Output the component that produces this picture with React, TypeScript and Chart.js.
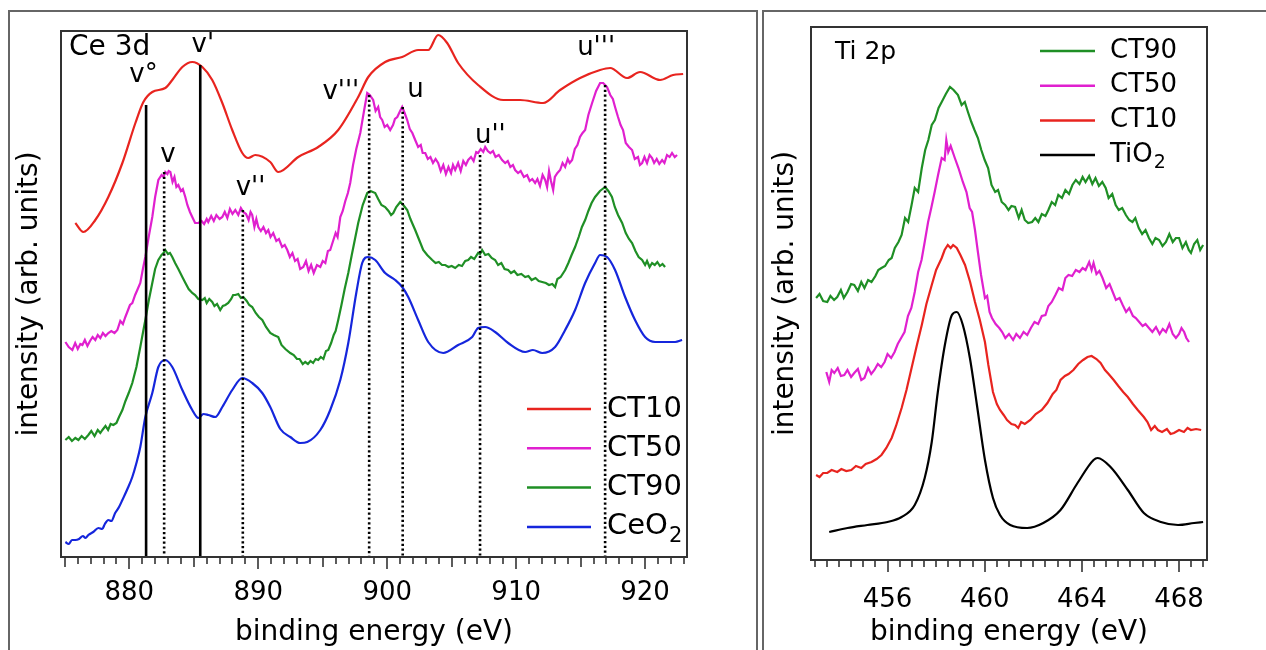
import React, { useEffect, useRef } from "react";
import { Chart, registerables } from "chart.js";

Chart.register(...registerables);

const FONT = "'DejaVu Sans', Verdana, sans-serif";

type Pt = [number, number];

// ---------------- Ce 3d panel data (binding energy eV, intensity arb.) ----------------
const ceCT10: Pt[] = [
  [875.81, 334], [876.43, 325], [877.36, 337], [878.37, 360], [879.46, 394], [880.47, 434],
  [881.09, 455], [881.78, 465], [882.79, 469], [883.33, 477], [884.11, 490], [884.88, 495],
  [885.66, 490], [886.43, 477], [887.21, 454], [887.98, 427], [888.76, 404], [889.22, 399],
  [889.77, 402], [890.93, 395], [891.55, 385], [893.1, 400], [894.65, 410], [896.2, 427],
  [897.75, 460], [898.53, 480], [899.84, 495], [901.16, 500], [902.4, 507], [903.18, 507],
  [903.95, 522], [904.65, 514], [905.5, 494], [907.05, 472], [909.0, 457], [910.31, 457],
  [912.09, 454], [913.41, 467], [914.96, 479], [916.51, 487], [917.29, 489], [918.6, 479],
  [919.61, 485], [921.16, 477], [922.17, 482], [922.95, 483],
];
const ceCT50: Pt[] = [
  [875.04, 215], [875.3, 210], [875.58, 207], [875.8, 214], [876.0, 208], [876.2, 213], [876.36, 212],
  [876.55, 217], [876.75, 211], [876.95, 216], [877.15, 220], [877.36, 217], [877.55, 222], [877.75, 219],
  [877.95, 224], [878.15, 221], [878.37, 224], [878.6, 226], [878.85, 224], [879.07, 227], [879.3, 236],
  [879.5, 233], [879.69, 240], [879.9, 247], [880.05, 252], [880.23, 254], [880.45, 262], [880.65, 268],
  [880.85, 274], [881.05, 288], [881.24, 300], [881.5, 320], [881.78, 340], [882.0, 360], [882.25, 377],
  [882.5, 382], [882.65, 380], [882.79, 385], [882.95, 383], [883.05, 386], [883.18, 385], [883.35, 375],
  [883.5, 380], [883.65, 370], [883.8, 372], [884.0, 366], [884.15, 368], [884.34, 360], [884.5, 352],
  [884.7, 345], [884.88, 340], [885.1, 334], [885.35, 334], [885.6, 336], [885.8, 333], [886.0, 338],
  [886.12, 335], [886.35, 341], [886.55, 336], [886.75, 342], [887.0, 338], [887.21, 340], [887.4, 345],
  [887.6, 339], [887.8, 348], [888.0, 343], [888.22, 347], [888.45, 342], [888.65, 349], [888.84, 345],
  [889.05, 343], [889.25, 337], [889.4, 345], [889.53, 342], [889.7, 330], [889.85, 338], [890.0, 330],
  [890.2, 326], [890.4, 330], [890.6, 324], [890.78, 327], [890.95, 320], [891.16, 324], [891.4, 316],
  [891.6, 318], [891.85, 310], [892.05, 312], [892.25, 307], [892.45, 300], [892.65, 304], [892.85, 296],
  [893.05, 298], [893.25, 288], [893.49, 290], [893.7, 296], [893.9, 286], [894.1, 292], [894.3, 284],
  [894.55, 292], [894.81, 290], [895.0, 296], [895.2, 294], [895.4, 306], [895.58, 307], [895.8, 316],
  [896.0, 324], [896.15, 320], [896.36, 340], [896.55, 346], [896.75, 356], [896.95, 364], [897.13, 374],
  [897.35, 392], [897.6, 408], [897.91, 424], [898.2, 446], [898.45, 464], [898.65, 462], [898.91, 457],
  [899.1, 446], [899.3, 450], [899.45, 440], [899.61, 437], [899.8, 430], [900.0, 432], [900.23, 427],
  [900.45, 432], [900.6, 438], [900.78, 440], [901.0, 446], [901.16, 450], [901.35, 444], [901.55, 437],
  [901.75, 428], [901.95, 424], [902.17, 417], [902.4, 410], [902.6, 412], [902.75, 404], [902.95, 404],
  [903.15, 398], [903.35, 400], [903.55, 394], [903.75, 398], [903.95, 394], [904.15, 386], [904.35, 392],
  [904.55, 383], [904.75, 390], [904.95, 384], [905.1, 392], [905.27, 387], [905.5, 394], [905.7, 386],
  [905.9, 396], [906.1, 392], [906.28, 397], [906.5, 400], [906.7, 396], [906.9, 405], [907.05, 404],
  [907.25, 408], [907.45, 405], [907.6, 410], [907.8, 406], [908.0, 404], [908.2, 406], [908.4, 400],
  [908.65, 402], [908.91, 397], [909.15, 394], [909.35, 396], [909.55, 390], [909.75, 392], [909.92, 387],
  [910.15, 384], [910.35, 386], [910.6, 380], [910.85, 382], [911.05, 376], [911.25, 378], [911.47, 374],
  [911.65, 378], [911.85, 371], [912.05, 382], [912.25, 377], [912.4, 370], [912.55, 386], [912.7, 376],
  [912.87, 367], [913.0, 380], [913.2, 384], [913.41, 387], [913.6, 394], [913.8, 390], [914.0, 398],
  [914.15, 394], [914.34, 397], [914.55, 408], [914.75, 412], [914.95, 420], [915.15, 424], [915.35, 427],
  [915.6, 442], [915.89, 454], [916.2, 466], [916.51, 474], [916.75, 474], [917.05, 470], [917.3, 462],
  [917.5, 458], [917.67, 450], [917.9, 440], [918.1, 432], [918.29, 427], [918.5, 414], [918.75, 410],
  [918.99, 407], [919.2, 398], [919.45, 400], [919.6, 392], [919.77, 394], [919.95, 400], [920.15, 394],
  [920.35, 402], [920.54, 399], [920.7, 394], [920.9, 398], [921.1, 393], [921.32, 397], [921.5, 394],
  [921.7, 402], [921.9, 400], [922.09, 404], [922.3, 400], [922.48, 402],
];
const ceCT90: Pt[] = [
  [875.04, 117], [875.3, 120], [875.55, 116], [875.81, 119], [876.05, 117], [876.3, 121], [876.55, 118],
  [876.82, 122], [877.05, 126], [877.3, 121], [877.55, 127], [877.75, 124], [877.91, 127], [878.15, 131],
  [878.35, 127], [878.55, 133], [878.76, 132], [879.0, 134], [879.2, 140], [879.46, 147], [879.7, 156],
  [879.95, 164], [880.23, 174], [880.55, 190], [880.85, 210], [881.05, 224], [881.24, 237], [881.5, 256],
  [881.78, 274], [882.0, 288], [882.25, 297], [882.5, 302], [882.65, 304], [882.79, 307], [883.0, 303],
  [883.15, 304], [883.33, 300], [883.55, 294], [883.8, 288], [884.11, 280], [884.35, 274], [884.6, 268],
  [884.88, 264], [885.1, 262], [885.35, 258], [885.66, 257], [885.85, 259], [886.0, 254], [886.2, 258],
  [886.43, 255], [886.6, 251], [886.8, 253], [887.05, 247], [887.25, 251], [887.45, 252], [887.67, 254],
  [887.9, 258], [888.05, 262], [888.22, 262], [888.45, 263], [888.65, 259], [888.84, 260], [889.1, 256],
  [889.3, 252], [889.53, 250], [889.8, 244], [890.05, 240], [890.31, 237], [890.6, 230], [890.93, 224],
  [891.2, 222], [891.55, 220], [891.8, 212], [892.1, 208], [892.48, 204], [892.75, 202], [893.0, 198],
  [893.2, 198], [893.45, 193], [893.64, 195], [893.85, 193], [894.05, 196], [894.25, 194], [894.45, 198],
  [894.65, 197], [894.85, 200], [895.05, 198], [895.25, 206], [895.43, 207], [895.65, 214], [895.85, 222],
  [896.0, 226], [896.2, 237], [896.45, 252], [896.7, 268], [896.98, 284], [897.25, 302], [897.5, 318],
  [897.75, 334], [898.1, 352], [898.45, 364], [898.7, 366], [899.07, 364], [899.3, 358], [899.55, 352],
  [899.84, 350], [900.1, 346], [900.3, 342], [900.47, 344], [900.7, 350], [901.01, 355], [901.25, 352],
  [901.55, 347], [901.8, 338], [902.0, 332], [902.17, 327], [902.45, 318], [902.79, 307], [903.1, 302],
  [903.49, 297], [903.75, 294], [904.0, 295], [904.25, 292], [904.5, 292], [904.75, 290], [905.0, 291],
  [905.27, 289], [905.55, 292], [905.8, 291], [906.05, 296], [906.28, 297], [906.5, 300], [906.75, 298],
  [907.05, 304], [907.2, 303], [907.36, 307], [907.6, 302], [907.85, 303], [908.1, 299], [908.37, 297],
  [908.6, 292], [908.85, 294], [909.1, 288], [909.38, 287], [909.6, 284], [909.85, 286], [910.1, 282],
  [910.4, 283], [910.7, 280], [910.95, 281], [911.2, 277], [911.5, 279], [911.75, 276], [912.02, 275],
  [912.3, 274], [912.55, 272], [912.8, 273], [913.02, 270], [913.2, 278], [913.45, 280], [913.8, 287],
  [914.05, 294], [914.3, 302], [914.57, 310], [914.85, 320], [915.1, 330], [915.35, 337], [915.6, 346],
  [915.85, 354], [916.12, 360], [916.5, 366], [916.9, 370], [917.15, 366], [917.43, 360], [917.65, 350],
  [917.9, 342], [918.22, 334], [918.5, 324], [918.75, 318], [918.99, 314], [919.25, 306], [919.5, 300],
  [919.77, 297], [920.0, 292], [920.15, 296], [920.35, 290], [920.54, 294], [920.75, 292], [920.95, 295],
  [921.15, 291], [921.35, 293], [921.55, 290],
];
const ceCeO2: Pt[] = [
  [875.04, 15], [875.3, 13], [875.55, 17], [875.81, 17], [876.1, 18], [876.4, 21], [876.6, 19], [876.82, 22],
  [877.2, 25], [877.6, 29], [877.9, 28], [878.1, 33], [878.37, 37], [878.6, 36], [878.9, 44], [879.2, 50],
  [879.46, 57], [879.85, 68], [880.23, 80], [880.55, 94], [880.85, 110], [881.24, 140], [881.78, 164],
  [882.25, 190], [882.79, 197], [883.33, 190], [884.11, 167], [884.88, 147], [885.35, 139], [885.75, 143],
  [886.12, 142], [886.67, 140], [887.21, 150], [887.98, 167], [888.76, 179], [889.53, 174], [890.31, 164],
  [890.93, 150], [891.71, 128], [892.48, 120], [893.26, 114], [893.8, 115], [894.81, 127],
  [895.58, 147], [896.36, 177], [896.98, 214], [897.6, 264], [898.06, 294], [898.53, 300], [899.07, 297],
  [899.84, 284], [900.62, 277], [901.16, 270], [901.63, 260], [902.4, 237], [903.18, 215], [904.34, 204],
  [905.5, 212], [906.59, 220], [907.05, 229], [907.6, 230], [908.37, 225], [909.38, 214], [910.7, 205],
  [911.3, 207], [912.02, 204], [913.02, 210], [913.8, 227], [914.57, 247], [915.35, 274], [916.12, 294],
  [916.51, 302], [917.05, 300], [917.67, 287], [918.45, 260], [919.22, 237], [920.0, 220], [920.78, 215],
  [921.55, 215], [922.33, 215], [922.87, 217],
];
const ceSeriesLabels = ["CT10", "CT50", "CT90", "CeO_2"];

// peak markers: position (eV), top of line (intensity), solid?
const ceMarkerPos = [881.3, 885.5, 882.7, 888.8, 898.6, 901.2, 907.2, 916.9];
const ceMarkerTop = [452, 492, 385, 347, 462, 450, 402, 472];
const ceMarkerSolid = [true, true, false, false, false, false, false, false];
// peak labels and their anchor (eV, intensity)
const ceLabelText = ["v°", "v'", "v", "v''", "v'''", "u", "u''", "u'''"];
const ceLabelX = [881.1, 885.7, 883.0, 889.4, 896.4, 902.2, 908.0, 916.2];
const ceLabelY = [482, 512, 402, 369, 465, 467, 421, 509];
const ceTicks = [880, 890, 900, 910, 920];

// ---------------- Ti 2p panel data ----------------
const tiCT90: Pt[] = [
  [453.06, 262], [453.2, 266], [453.35, 259], [453.52, 258], [453.65, 264], [453.8, 260], [453.93, 263],
  [454.08, 270], [454.2, 262], [454.35, 268], [454.5, 276], [454.63, 275], [454.78, 269], [454.92, 278],
  [455.05, 272], [455.2, 280], [455.34, 278], [455.5, 284], [455.62, 290], [455.75, 292], [455.9, 294],
  [456.05, 300], [456.17, 302], [456.3, 312], [456.45, 318], [456.58, 325], [456.72, 342], [456.85, 338],
  [456.99, 355], [457.12, 372], [457.26, 368], [457.41, 392], [457.55, 410], [457.68, 420], [457.82, 435],
  [457.95, 440], [458.1, 452], [458.23, 458], [458.4, 466], [458.57, 473], [458.72, 470], [458.9, 465],
  [459.05, 455], [459.18, 458], [459.31, 448], [459.45, 438], [459.58, 430], [459.72, 422], [459.86, 410],
  [460.0, 400], [460.14, 392], [460.28, 375], [460.43, 368], [460.55, 370], [460.7, 358], [460.84, 355],
  [460.98, 350], [461.1, 354], [461.25, 353], [461.4, 342], [461.52, 350], [461.65, 340], [461.79, 337],
  [461.95, 338], [462.08, 342], [462.21, 338], [462.35, 346], [462.5, 344], [462.62, 350], [462.76, 358],
  [462.9, 355], [463.03, 365], [463.18, 362], [463.32, 370], [463.47, 366], [463.61, 375], [463.75, 380],
  [463.9, 376], [464.03, 383], [464.15, 378], [464.3, 384], [464.43, 376], [464.56, 382], [464.7, 374],
  [464.84, 378], [464.98, 372], [465.1, 362], [465.25, 366], [465.39, 355], [465.52, 350], [465.66, 352],
  [465.81, 345], [465.95, 340], [466.08, 338], [466.2, 342], [466.34, 332], [466.48, 326], [466.62, 330],
  [466.76, 322], [466.9, 316], [467.03, 322], [467.18, 320], [467.32, 314], [467.46, 318], [467.6, 326],
  [467.74, 318], [467.87, 322], [468.0, 322], [468.14, 312], [468.28, 318], [468.4, 310], [468.49, 307],
  [468.62, 316], [468.75, 320], [468.87, 310], [468.99, 315],
];
const tiCT50: Pt[] = [
  [453.48, 188], [453.6, 178], [453.7, 190], [453.81, 187], [453.95, 192], [454.08, 184], [454.22, 185],
  [454.35, 190], [454.5, 183], [454.63, 187], [454.78, 191], [454.92, 180], [455.05, 182], [455.2, 192],
  [455.33, 186], [455.46, 190], [455.6, 196], [455.74, 193], [455.88, 198], [456.0, 206], [456.15, 202],
  [456.29, 208], [456.42, 216], [456.56, 222], [456.7, 228], [456.84, 244], [456.98, 252], [457.12, 268],
  [457.26, 288], [457.4, 300], [457.53, 318], [457.67, 338], [457.8, 352], [457.94, 368], [458.08, 385],
  [458.23, 402], [458.35, 400], [458.42, 420], [458.5, 408], [458.6, 414], [458.77, 402], [458.92, 392],
  [459.1, 378], [459.25, 368], [459.38, 352], [459.48, 348], [459.6, 330], [459.72, 308], [459.85, 285],
  [460.01, 262], [460.1, 264], [460.2, 248], [460.3, 242], [460.45, 236], [460.6, 232], [460.72, 228],
  [460.85, 222], [461.0, 226], [461.17, 220], [461.3, 226], [461.45, 222], [461.6, 228], [461.75, 225],
  [461.9, 232], [462.05, 238], [462.2, 236], [462.35, 244], [462.5, 245], [462.62, 254], [462.76, 258],
  [462.91, 265], [463.05, 272], [463.2, 270], [463.32, 282], [463.45, 285], [463.6, 284], [463.75, 290],
  [463.9, 288], [464.03, 292], [464.15, 290], [464.3, 298], [464.4, 290], [464.48, 297], [464.6, 286],
  [464.72, 289], [464.85, 282], [465.0, 272], [465.14, 276], [465.27, 268], [465.4, 260], [465.55, 262],
  [465.68, 255], [465.82, 248], [465.95, 252], [466.1, 244], [466.22, 242], [466.36, 238], [466.5, 234],
  [466.62, 236], [466.76, 232], [466.9, 228], [467.05, 233], [467.2, 226], [467.33, 231], [467.46, 228],
  [467.6, 236], [467.74, 226], [467.87, 222], [468.0, 226], [468.1, 232], [468.21, 228], [468.3, 222],
  [468.41, 218],
];
const tiCT10: Pt[] = [
  [453.06, 85], [453.2, 83], [453.35, 87], [453.52, 87], [453.7, 90], [453.93, 88], [454.1, 91],
  [454.3, 89], [454.51, 90], [454.7, 94], [454.92, 92], [455.1, 96], [455.34, 98], [455.55, 101],
  [455.75, 105], [455.95, 112], [456.17, 122], [456.35, 134], [456.58, 152], [456.78, 170], [456.99, 192],
  [457.2, 214], [457.41, 235], [457.6, 256], [457.82, 275], [458.0, 290], [458.23, 302], [458.35, 310],
  [458.48, 315], [458.6, 312], [458.7, 315], [458.85, 312], [459.0, 305], [459.19, 295], [459.4, 278],
  [459.6, 258], [459.8, 240], [460.01, 218], [460.15, 195], [460.34, 168], [460.5, 156], [460.63, 150],
  [460.78, 145], [460.92, 140], [461.1, 136], [461.25, 135], [461.38, 132], [461.5, 138], [461.65, 136],
  [461.88, 140], [462.1, 146], [462.35, 150], [462.58, 157], [462.8, 166], [462.95, 170], [463.12, 180],
  [463.3, 184], [463.45, 186], [463.65, 190], [463.85, 196], [464.05, 200], [464.23, 203], [464.4, 204],
  [464.6, 201], [464.77, 197], [464.95, 190], [465.1, 186], [465.31, 180], [465.5, 174], [465.7, 168],
  [465.89, 163], [466.1, 156], [466.3, 150], [466.55, 143], [466.7, 138], [466.85, 130], [467.0, 134],
  [467.13, 130], [467.3, 128], [467.5, 131], [467.65, 126], [467.79, 127], [468.0, 130], [468.2, 128],
  [468.35, 132], [468.49, 130], [468.7, 131], [468.91, 130],
];
const tiTiO2: Pt[] = [
  [453.6, 28], [454.35, 32], [455.17, 35], [456.0, 38], [456.58, 43], [457.12, 55],
  [457.53, 82], [457.82, 118], [458.07, 168], [458.36, 215], [458.65, 245], [458.85, 248],
  [459.1, 235], [459.39, 202], [459.68, 155], [460.01, 100], [460.34, 62], [460.63, 45],
  [461.05, 35], [461.75, 32], [462.41, 37], [463.12, 50], [463.82, 77], [464.48, 100],
  [464.65, 102], [465.18, 93], [465.89, 70], [466.55, 47], [467.25, 38], [467.96, 35],
  [468.62, 37], [468.99, 38],
];
const tiSeriesLabels = ["CT90", "CT50", "CT10", "TiO_2"];
const tiTicks = [456, 460, 464, 468];

const RED = "#e8241f";
const MAGENTA = "#e020cf";
const GREEN = "#1f8f25";
const BLUE = "#1526dc";
const BLACK = "#000000";

const toXY = (pts: Pt[]) => pts.map(([x, y]) => ({ x, y }));

function drawRich(ctx: CanvasRenderingContext2D, text: string, x: number, y: number, size: number) {
  const [main, sub] = text.split("_");
  ctx.font = `${size}px ${FONT}`;
  ctx.textAlign = "left";
  ctx.textBaseline = "middle";
  ctx.fillText(main, x, y);
  if (sub) {
    const w = ctx.measureText(main).width;
    ctx.font = `${Math.round(size * 0.72)}px ${FONT}`;
    ctx.fillText(sub, x + w + 1, y + size * 0.32);
  }
}

type Series = { label: string; data: Pt[]; color: string; smooth?: boolean };

type PanelSpec = {
  left: number; top: number; width: number; height: number;
  padTop: number; padRight: number; yWidth: number; xHeight: number;
  xMin: number; xMax: number; yMax: number;
  ticks: number[]; minorStep: number; midStep: number; majorStep: number;
  tickPad: number;
  series: Series[];
  markers?: { pos: number[]; top: number[]; solid: boolean[] };
  peakLabels?: { text: string[]; x: number[]; y: number[] };
  panelTitle: string; titleDx: number; titleDy: number; titleSize: number;
  legend: { x1: number; x2: number; tx: number; y0: number; dy: number; size: number };
};

function PanelChart({ spec }: { spec: PanelSpec }) {
  const ref = useRef<HTMLCanvasElement>(null);
  useEffect(() => {
    const s = spec;
    const datasets: any[] = s.series.map((se) => ({
      label: se.label,
      data: toXY(se.data),
      borderColor: se.color,
      borderWidth: 2.2,
      pointRadius: 0,
      tension: 0,
      cubicInterpolationMode: se.smooth ? "monotone" : "default",
      fill: false,
      order: 2,
    }));
    if (s.markers) {
      s.markers.pos.forEach((p, i) => {
        datasets.push({
          label: "marker" + i,
          data: [{ x: p, y: s.markers!.top[i] }, { x: p, y: 0 }],
          borderColor: "#000",
          borderWidth: 2.6,
          borderDash: s.markers!.solid[i] ? [] : [2.2, 2.6],
          pointRadius: 0,
          fill: false,
          order: 1,
        });
      });
    }
    const overlay = {
      id: "overlay",
      afterDraw(chart: any) {
        const ctx: CanvasRenderingContext2D = chart.ctx;
        const a = chart.chartArea;
        const xs = chart.scales.x;
        const ys = chart.scales.y;
        ctx.save();
        // frame
        ctx.strokeStyle = "#333";
        ctx.lineWidth = 2;
        ctx.strokeRect(a.left, a.top, a.right - a.left, a.bottom - a.top);
        // ticks
        ctx.lineWidth = 1.6;
        const start = Math.ceil(xs.min / s.minorStep - 1e-9);
        const end = Math.floor(xs.max / s.minorStep + 1e-9);
        const isMult = (v: number, m: number) => Math.abs(v / m - Math.round(v / m)) < 1e-6;
        for (let k = start; k <= end; k++) {
          const v = k * s.minorStep;
          const len = isMult(v, s.majorStep) ? 12 : s.midStep && isMult(v, s.midStep) ? 10 : 7;
          const px = Math.round(xs.getPixelForValue(v));
          ctx.beginPath();
          ctx.moveTo(px, a.bottom);
          ctx.lineTo(px, a.bottom + len);
          ctx.stroke();
        }
        // panel title
        ctx.fillStyle = "#000";
        ctx.font = `${s.titleSize}px ${FONT}`;
        ctx.textAlign = "left";
        ctx.textBaseline = "middle";
        ctx.fillText(s.panelTitle, a.left + s.titleDx, a.top + s.titleDy);
        // peak labels
        if (s.peakLabels) {
          ctx.font = `26px ${FONT}`;
          ctx.textAlign = "center";
          s.peakLabels.text.forEach((t, i) => {
            ctx.fillText(t, xs.getPixelForValue(s.peakLabels!.x[i]), ys.getPixelForValue(s.peakLabels!.y[i]));
          });
        }
        // legend
        const L = s.legend;
        s.series.forEach((se, i) => {
          const y = a.top + L.y0 + i * L.dy;
          ctx.strokeStyle = se.color;
          ctx.lineWidth = 2.5;
          ctx.beginPath();
          ctx.moveTo(a.left + L.x1, y);
          ctx.lineTo(a.left + L.x2, y);
          ctx.stroke();
          ctx.fillStyle = "#000";
          drawRich(ctx, se.label, a.left + L.tx, y, L.size);
        });
        ctx.restore();
      },
    };
    const chart = new Chart(ref.current!, {
      type: "line",
      data: { datasets },
      options: {
        responsive: false,
        animation: false,
        events: [],
        layout: { padding: { top: s.padTop, right: s.padRight, left: 0, bottom: 0 } },
        plugins: { legend: { display: false }, tooltip: { enabled: false } },
        scales: {
          x: {
            type: "linear",
            min: s.xMin,
            max: s.xMax,
            grid: { display: false, drawTicks: false },
            border: { display: false },
            afterBuildTicks: (sc: any) => {
              sc.ticks = s.ticks.map((v) => ({ value: v }));
            },
            ticks: {
              autoSkip: false,
              maxRotation: 0,
              padding: s.tickPad,
              color: "#000",
              font: { family: FONT, size: 26 },
              callback: (v: any) => String(v),
            },
            title: {
              display: true,
              text: "binding energy (eV)",
              color: "#000",
              font: { family: FONT, size: 28 },
              padding: { top: 0, bottom: 0 },
            },
            afterFit: (sc: any) => {
              sc.height = s.xHeight;
            },
          },
          y: {
            type: "linear",
            min: 0,
            max: s.yMax,
            grid: { display: false, drawTicks: false },
            border: { display: false },
            ticks: { display: false },
            title: {
              display: true,
              text: "intensity (arb. units)",
              color: "#000",
              font: { family: FONT, size: 28 },
              padding: { top: 5, bottom: 0 },
            },
            afterFit: (sc: any) => {
              sc.width = s.yWidth;
            },
          },
        },
      } as any,
      plugins: [overlay],
    });
    return () => chart.destroy();
  }, [spec]);
  return (
    <canvas
      ref={ref}
      width={spec.width}
      height={spec.height}
      style={{ position: "absolute", left: spec.left, top: spec.top, width: spec.width, height: spec.height }}
    />
  );
}

const ceSpec: PanelSpec = {
  left: 8, top: 10, width: 750, height: 640,
  padTop: 21, padRight: 71, yWidth: 53, xHeight: 93,
  xMin: 874.7, xMax: 923.25, yMax: 526,
  ticks: ceTicks, minorStep: 1, midStep: 5, majorStep: 10, tickPad: 21,
  series: [
    { label: ceSeriesLabels[0], data: ceCT10, color: RED, smooth: true },
    { label: ceSeriesLabels[1], data: ceCT50, color: MAGENTA },
    { label: ceSeriesLabels[2], data: ceCT90, color: GREEN },
    { label: ceSeriesLabels[3], data: ceCeO2, color: BLUE, smooth: true },
  ],
  markers: { pos: ceMarkerPos, top: ceMarkerTop, solid: ceMarkerSolid },
  peakLabels: { text: ceLabelText, x: ceLabelX, y: ceLabelY },
  panelTitle: "Ce 3d", titleDx: 8, titleDy: 17, titleSize: 28,
  legend: { x1: 466, x2: 530, tx: 546, y0: 378, dy: 39.3, size: 29 },
};

const tiSpec: PanelSpec = {
  left: 764, top: 10, width: 502, height: 640,
  padTop: 17, padRight: 59, yWidth: 47, xHeight: 90,
  xMin: 452.85, xMax: 469.15, yMax: 533,
  ticks: tiTicks, minorStep: 0.5, midStep: 0, majorStep: 4, tickPad: 25,
  series: [
    { label: tiSeriesLabels[0], data: tiCT90, color: GREEN },
    { label: tiSeriesLabels[1], data: tiCT50, color: MAGENTA },
    { label: tiSeriesLabels[2], data: tiCT10, color: RED },
    { label: tiSeriesLabels[3], data: tiTiO2, color: BLACK, smooth: true },
  ],
  panelTitle: "Ti 2p", titleDx: 24, titleDy: 25, titleSize: 25,
  legend: { x1: 229, x2: 284, tx: 299, y0: 24, dy: 34.7, size: 26 },
};

export default function App() {
  return (
    <div style={{ position: "fixed", left: 0, top: 0, width: 1266, height: 650, overflow: "hidden", background: "#fff" }}>
      <div style={{ position: "absolute", left: 8, top: 10, width: 750, height: 700, border: "2px solid #666", boxSizing: "border-box" }} />
      <div style={{ position: "absolute", left: 762, top: 10, width: 560, height: 700, border: "2px solid #666", boxSizing: "border-box" }} />
      <PanelChart spec={ceSpec} />
      <PanelChart spec={tiSpec} />
    </div>
  );
}
